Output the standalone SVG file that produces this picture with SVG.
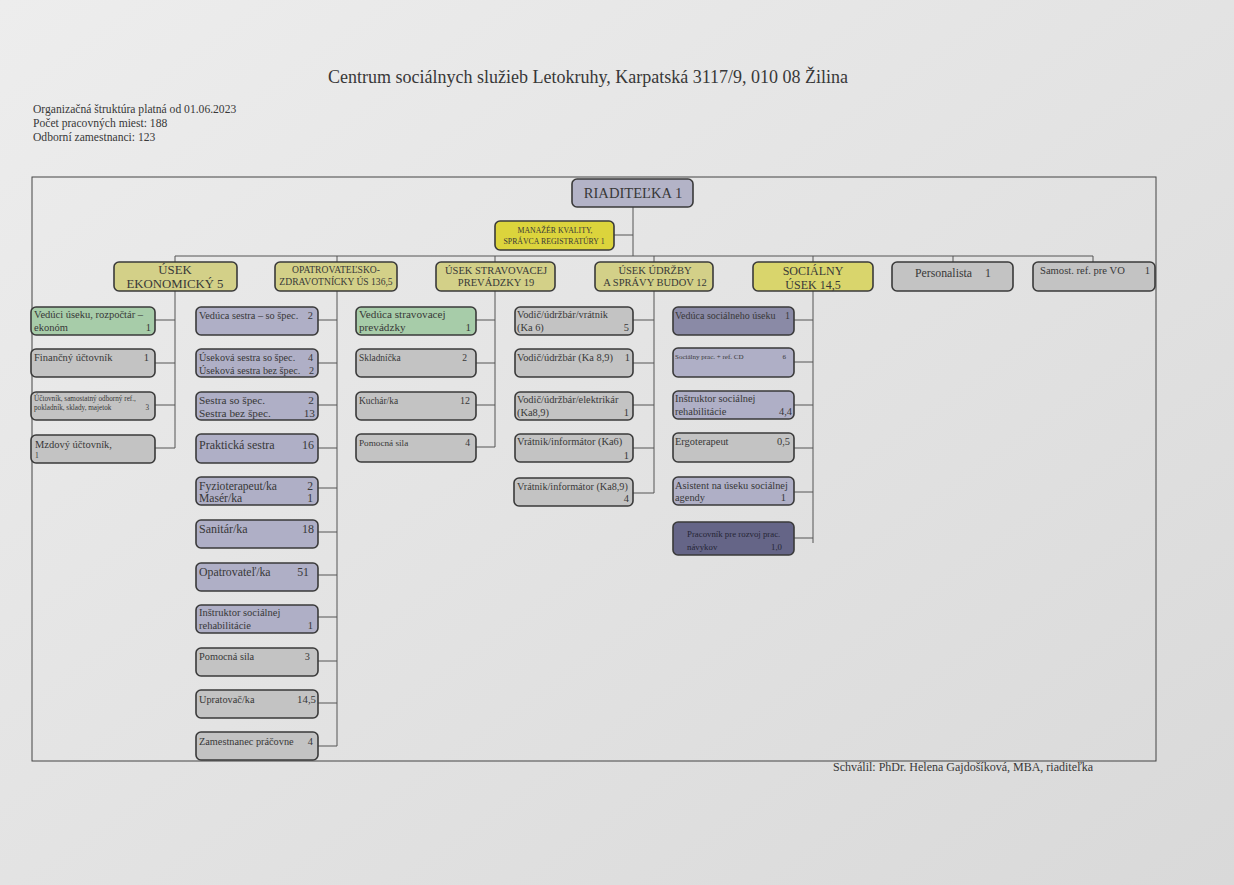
<svg xmlns="http://www.w3.org/2000/svg" width="1234" height="885" viewBox="0 0 1234 885">
<defs>
<linearGradient id="paper" x1="0" y1="0" x2="1" y2="1">
<stop offset="0" stop-color="#ededed"/>
<stop offset="1" stop-color="#d9d9d9"/>
</linearGradient>
<style>
text{font-family:"Liberation Serif","DejaVu Serif",serif;fill:#383838}
.b{stroke:#3a3a3a;stroke-width:1.6}
.gray{fill:#c3c3c3}
.pur{fill:#afafc6}
.grn{fill:#a7cca9}
.yel{fill:#d3d088}
.soc{fill:#d9d56c}
.man{fill:#dcd43c}
.dpur{fill:#8a8aa6}
.xpur{fill:#656587}
.dir{fill:#b3b3c7}
.ln{stroke:#555;stroke-width:1;fill:none}
.t{font-size:10.5px}
.u{font-size:10.4px}
.e{text-anchor:end}
.m{text-anchor:middle}
</style>
</defs>
<rect x="0" y="0" width="1234" height="885" fill="url(#paper)"/>
<text x="588" y="83" class="m" style="font-size:18px">Centrum sociálnych služieb Letokruhy, Karpatská 3117/9, 010 08 Žilina</text>
<g id="header" style="font-size:11.6px">
<text x="33" y="113">Organizačná štruktúra platná od 01.06.2023</text>
<text x="33" y="127">Počet pracovných miest: 188</text>
<text x="33" y="141">Odborní zamestnanci:    123</text>
</g>
<rect id="frame" x="32" y="177" width="1124" height="584" fill="none" stroke="#444" stroke-width="1"/>
<g id="connectors" class="ln">
<path d="M633,207V256M614,235H633M175,256H1093"/>
<path d="M175,256V448M155,320H175M155,363H175M155,405H175M155,448H175"/>
<path d="M337,256V746M318,320H337M318,363H337M318,405H337M318,448H337M318,488H337M318,532H337M318,575H337M318,617H337M318,661H337M318,703H337M318,746H337"/>
<path d="M495,256V447M476,320H495M476,363H495M476,405H495M476,447H495"/>
<path d="M654,256V493M633,320H654M633,363H654M633,405H654M633,448H654M633,493H654"/>
<path d="M813,256V543M794,320H813M794,362H813M794,405H813M794,448H813M794,492H813M794,538H813"/>
<path d="M953,256V262M1093,256V262"/>
</g>
<g id="riaditelka"><rect x="572" y="179" width="121" height="28" rx="5" class="b dir"/><text x="633" y="198" class="m" style="font-size:14.6px">RIADITEĽKA 1</text></g>
<g id="manazer"><rect x="495" y="221" width="119" height="29" rx="5" class="b man"/><text x="555" y="233" class="m" style="font-size:7.8px">MANAŽÉR KVALITY,</text><text x="554" y="244" class="m" style="font-size:7.8px">SPRÁVCA REGISTRATÚRY  1</text></g>
<g id="usek-ekonomicky"><rect x="114" y="262" width="123" height="29" rx="5" class="b yel"/><text x="175" y="274" class="m" style="font-size:12.8px">ÚSEK</text><text x="175" y="288" class="m" style="font-size:12.8px">EKONOMICKÝ  5</text></g>
<g id="usek-opatrovatelsko"><rect x="275" y="262" width="122" height="29" rx="5" class="b yel"/><text x="336" y="273" class="m" style="font-size:9.6px">OPATROVATEĽSKO-</text><text x="336" y="285" class="m" style="font-size:9.6px">ZDRAVOTNÍCKY ÚS 136,5</text></g>
<g id="usek-stravovacej"><rect x="436" y="262" width="119" height="29" rx="5" class="b yel"/><text x="496" y="274" class="m" style="font-size:10.5px">ÚSEK STRAVOVACEJ</text><text x="496" y="286" class="m" style="font-size:10.5px">PREVÁDZKY  19</text></g>
<g id="usek-udrzby"><rect x="595" y="262" width="118" height="29" rx="5" class="b yel"/><text x="655" y="274" class="m" style="font-size:10.5px">ÚSEK ÚDRŽBY</text><text x="655" y="286" class="m" style="font-size:10.5px">A SPRÁVY BUDOV 12</text></g>
<g id="usek-socialny"><rect x="753" y="262" width="120" height="29" rx="5" class="b soc"/><text x="813" y="275" class="m" style="font-size:12px">SOCIÁLNY</text><text x="813" y="289" class="m" style="font-size:12px">ÚSEK 14,5</text></g>
<g id="personalista"><rect x="892" y="262" width="121" height="29" rx="5" class="b gray"/><text x="915" y="277" style="font-size:11.8px">Personalista</text><text x="985" y="277" style="font-size:11.8px">1</text></g>
<g id="samost-ref"><rect x="1033" y="262" width="122" height="29" rx="5" class="b gray"/><text x="1040" y="274" style="font-size:10.6px">Samost. ref. pre VO</text><text x="1150" y="274" class="e" style="font-size:10.6px">1</text></g>

<g id="eko-1"><rect x="31" y="307" width="124" height="28" rx="5" class="b grn"/><text x="34" y="318" class="t">Vedúci úseku, rozpočtár –</text><text x="34" y="331" class="t">ekonóm</text><text x="151" y="331" class="t e">1</text></g>
<g id="eko-2"><rect x="31" y="349" width="124" height="28" rx="5" class="b gray"/><text x="34" y="361" class="t">Finančný účtovník</text><text x="149" y="361" class="t e">1</text></g>
<g id="eko-3"><rect x="31" y="392" width="124" height="28" rx="5" class="b gray"/><text x="34" y="401" style="font-size:7.2px">Účtovník, samostatný odborný ref.,</text><text x="34" y="410" style="font-size:7.2px">pokladník, sklady, majetok</text><text x="149" y="410" class="e" style="font-size:7.2px">3</text></g>
<g id="eko-4"><rect x="31" y="435" width="124" height="28" rx="5" class="b gray"/><text x="35" y="448" class="t">Mzdový účtovník,</text><text x="35" y="458" style="font-size:7.5px">1</text></g>

<g id="opa-1"><rect x="196" y="307" width="122" height="28" rx="5" class="b pur"/><text x="199" y="319" style="font-size:10.3px">Vedúca sestra – so špec.</text><text x="313" y="319" class="e" style="font-size:10.3px">2</text></g>
<g id="opa-2"><rect x="196" y="349" width="122" height="28" rx="5" class="b pur"/><text x="199" y="361" style="font-size:10.2px">Úseková sestra so špec.</text><text x="313" y="361" class="e" style="font-size:10.2px">4</text><text x="199" y="374" style="font-size:10.2px">Úseková sestra bez špec.</text><text x="314" y="374" class="e" style="font-size:10.2px">2</text></g>
<g id="opa-3"><rect x="196" y="392" width="122" height="28" rx="5" class="b pur"/><text x="199" y="404" style="font-size:11.3px">Sestra so špec.</text><text x="314" y="404" class="e" style="font-size:11.3px">2</text><text x="199" y="417" style="font-size:11.3px">Sestra bez špec.</text><text x="315" y="417" class="e" style="font-size:11.3px">13</text></g>
<g id="opa-4"><rect x="196" y="434" width="122" height="29" rx="5" class="b pur"/><text x="199" y="449" style="font-size:12px">Praktická sestra</text><text x="314" y="449" class="e" style="font-size:12px">16</text></g>
<g id="opa-5"><rect x="196" y="477" width="122" height="28" rx="5" class="b pur"/><text x="199" y="490" style="font-size:11.6px">Fyzioterapeut/ka</text><text x="313" y="490" class="e" style="font-size:11.6px">2</text><text x="199" y="502" style="font-size:11.6px">Masér/ka</text><text x="313" y="502" class="e" style="font-size:11.6px">1</text></g>
<g id="opa-6"><rect x="196" y="520" width="122" height="28" rx="5" class="b pur"/><text x="199" y="533" style="font-size:12px">Sanitár/ka</text><text x="314" y="533" class="e" style="font-size:12px">18</text></g>
<g id="opa-7"><rect x="196" y="563" width="122" height="28" rx="5" class="b pur"/><text x="199" y="576" style="font-size:11.8px">Opatrovateľ/ka</text><text x="309" y="576" class="e" style="font-size:11.8px">51</text></g>
<g id="opa-8"><rect x="196" y="605" width="122" height="28" rx="5" class="b pur"/><text x="199" y="616" class="t">Inštruktor sociálnej</text><text x="199" y="629" class="t">rehabilitácie</text><text x="313" y="629" class="t e">1</text></g>
<g id="opa-9"><rect x="196" y="648" width="122" height="28" rx="5" class="b gray"/><text x="199" y="660" style="font-size:10.3px">Pomocná sila</text><text x="310" y="660" class="e" style="font-size:10.3px">3</text></g>
<g id="opa-10"><rect x="196" y="690" width="122" height="28" rx="5" class="b gray"/><text x="199" y="703" style="font-size:10.3px">Upratovač/ka</text><text x="316" y="703" class="e" style="font-size:10.8px">14,5</text></g>
<g id="opa-11"><rect x="196" y="732" width="122" height="28" rx="5" class="b gray"/><text x="199" y="745" style="font-size:10.3px">Zamestnanec práčovne</text><text x="313" y="745" class="e" style="font-size:10.3px">4</text></g>

<g id="str-1"><rect x="356" y="307" width="120" height="28" rx="5" class="b grn"/><text x="359" y="318" style="font-size:11.2px">Vedúca stravovacej</text><text x="359" y="331" style="font-size:11.2px">prevádzky</text><text x="471" y="331" class="e" style="font-size:11px">1</text></g>
<g id="str-2"><rect x="356" y="349" width="120" height="28" rx="5" class="b gray"/><text x="359" y="361" style="font-size:9.4px">Skladníčka</text><text x="467" y="361" class="e" style="font-size:9.6px">2</text></g>
<g id="str-3"><rect x="356" y="392" width="120" height="28" rx="5" class="b gray"/><text x="359" y="404" style="font-size:9.4px">Kuchár/ka</text><text x="470" y="404" class="e" style="font-size:10px">12</text></g>
<g id="str-4"><rect x="356" y="434" width="120" height="28" rx="5" class="b gray"/><text x="359" y="446" style="font-size:9.2px">Pomocná sila</text><text x="470" y="446" class="e" style="font-size:9.6px">4</text></g>

<g id="udr-1"><rect x="515" y="307" width="118" height="28" rx="5" class="b gray"/><text x="517" y="318" class="u">Vodič/údržbár/vrátnik</text><text x="517" y="331" class="u">(Ka 6)</text><text x="629" y="331" class="u e">5</text></g>
<g id="udr-2"><rect x="515" y="349" width="118" height="28" rx="5" class="b gray"/><text x="517" y="361" class="u">Vodič/údržbár (Ka 8,9)</text><text x="630" y="361" class="u e">1</text></g>
<g id="udr-3"><rect x="515" y="392" width="118" height="28" rx="5" class="b gray"/><text x="517" y="403" class="u">Vodič/údržbár/elektrikár</text><text x="517" y="416" class="u">(Ka8,9)</text><text x="629" y="416" class="u e">1</text></g>
<g id="udr-4"><rect x="515" y="434" width="118" height="28" rx="5" class="b gray"/><text x="517" y="445" class="u">Vrátnik/informátor (Ka6)</text><text x="629" y="459" class="u e">1</text></g>
<g id="udr-5"><rect x="514" y="478" width="119" height="28" rx="5" class="b gray"/><text x="517" y="490" style="font-size:10.2px">Vrátnik/informátor  (Ka8,9)</text><text x="629" y="502" class="u e">4</text></g>

<g id="soc-1"><rect x="673" y="307" width="121" height="28" rx="5" class="b dpur"/><text x="675" y="319" style="font-size:10px">Vedúca sociálneho úseku</text><text x="790" y="319" class="e" style="font-size:10px">1</text></g>
<g id="soc-2"><rect x="673" y="348" width="121" height="29" rx="5" class="b pur"/><text x="675" y="359" style="font-size:7px">Sociálny prac. + ref. CD</text><text x="786" y="359" class="e" style="font-size:7px">6</text></g>
<g id="soc-3"><rect x="673" y="391" width="121" height="28" rx="5" class="b pur"/><text x="675" y="402" class="u">Inštruktor sociálnej</text><text x="675" y="415" class="u">rehabilitácie</text><text x="792" y="415" class="u e">4,4</text></g>
<g id="soc-4"><rect x="673" y="433" width="121" height="29" rx="5" class="b gray"/><text x="675" y="445" class="u">Ergoterapeut</text><text x="790" y="445" class="u e">0,5</text></g>
<g id="soc-5"><rect x="673" y="477" width="121" height="28" rx="5" class="b pur"/><text x="675" y="489" class="u">Asistent na úseku sociálnej</text><text x="675" y="501" class="u">agendy</text><text x="786" y="501" class="u e">1</text></g>
<g id="soc-6"><rect x="673" y="522" width="121" height="33" rx="5" class="b xpur"/><text x="687" y="537" style="font-size:8.8px;fill:#262636">Pracovník pre rozvoj prac.</text><text x="687" y="550" style="font-size:8.8px;fill:#262636">návykov</text><text x="782" y="550" class="e" style="font-size:8.8px;fill:#262636">1,0</text></g>

<text x="833" y="771" style="font-size:12px">Schválil: PhDr. Helena Gajdošíková, MBA, riaditeľka</text>
</svg>
